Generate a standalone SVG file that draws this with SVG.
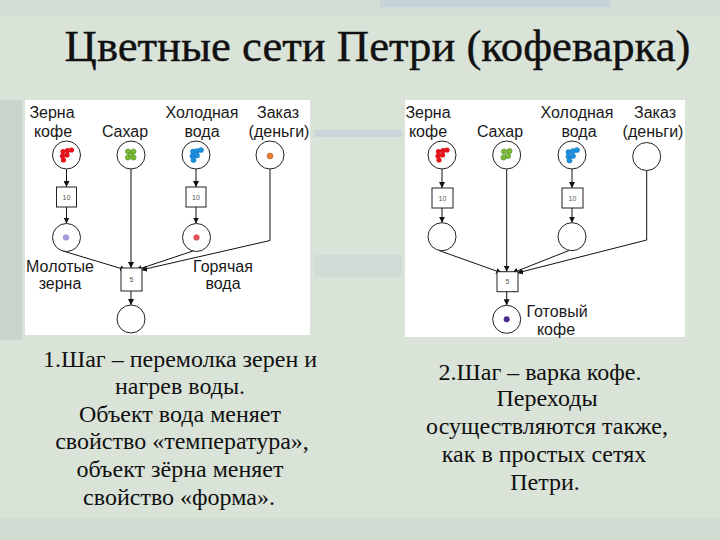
<svg xmlns="http://www.w3.org/2000/svg" width="720" height="540" viewBox="0 0 720 540">
<defs>
<marker id="arr" viewBox="0 0 10 10" refX="10" refY="5" markerWidth="6" markerHeight="6" orient="auto" markerUnits="userSpaceOnUse">
<path d="M0,0 L10,5 L0,10 z" fill="#111"/>
</marker>
<style>
.pl{fill:#fff;stroke:#222;stroke-width:1}
.tr{fill:#fff;stroke:#222;stroke-width:1}
.lb{font-family:"Liberation Sans",Arial,sans-serif;font-size:16px;fill:#1a1a1a;text-anchor:middle}
.tl{font-family:"Liberation Sans",Arial,sans-serif;font-size:7px;fill:#555;text-anchor:middle}
.cn{fill:none;stroke:#111;stroke-width:1;marker-end:url(#arr)}
.tx{font-family:"Liberation Serif","Times New Roman",serif;font-size:24px;fill:#111;text-anchor:middle}
.rd{fill:#e3141b}
.gr{fill:#7dbb3a;stroke:#4d8a1e;stroke-width:0.6}
.bl{fill:#1b90dd;stroke:#0d6bb0;stroke-width:0.4}
</style>
</defs>
<rect x="0" y="0" width="720" height="540" fill="#d9e3d8"/>
<rect x="0" y="0" width="720" height="16" fill="#d2ddd5"/>
<rect x="380" y="0" width="230" height="7" fill="#bccbdb" opacity="0.6"/>
<rect x="0" y="100" width="22" height="240" fill="#cad4cc"/>
<rect x="314" y="130" width="88" height="7" fill="#c3d0da" opacity="0.7"/>
<rect x="314" y="255" width="88" height="22" fill="#cbd7d6" opacity="0.6"/>
<rect x="0" y="518" width="720" height="22" fill="#d0dbd2"/>
<g id="title"><text class="tx" x="377.5" y="61" style="font-size:44.7px" stroke="#111" stroke-width="0.4">Цветные сети Петри (кофеварка)</text></g>
<rect x="25" y="100" width="285" height="235" fill="#fff"/>
<rect x="405" y="100" width="280" height="237" fill="#fff"/>
<g id="connectors">
<line class="cn" x1="66.5" y1="169" x2="66.5" y2="187"/>
<line class="cn" x1="66.5" y1="207" x2="66.5" y2="223.5"/>
<line class="cn" x1="196" y1="169" x2="196" y2="187"/>
<line class="cn" x1="196" y1="207" x2="196" y2="223.5"/>
<line class="cn" x1="131" y1="169" x2="131" y2="268"/>
<polyline class="cn" points="270,169 270,240.5 141,270"/>
<line class="cn" x1="63" y1="251" x2="126" y2="270"/>
<line class="cn" x1="193" y1="251" x2="136" y2="270"/>
<line class="cn" x1="131" y1="291" x2="131" y2="305"/>
<line class="cn" x1="442" y1="169" x2="442" y2="188"/>
<line class="cn" x1="442" y1="208" x2="442" y2="222.7"/>
<line class="cn" x1="572" y1="169" x2="572" y2="188"/>
<line class="cn" x1="572" y1="208" x2="572" y2="222.7"/>
<line class="cn" x1="506.7" y1="169" x2="506.7" y2="271.7"/>
<polyline class="cn" points="646.7,170.5 646.7,240 517,273"/>
<line class="cn" x1="439" y1="250.5" x2="502" y2="273"/>
<line class="cn" x1="569" y1="250.5" x2="512" y2="273"/>
<line class="cn" x1="506.7" y1="291.7" x2="506.7" y2="305.3"/>
</g>
<g id="L_beans">
<circle class="pl" cx="66.5" cy="155" r="14"/>
<circle class="rd" cx="63" cy="151.5" r="2.6"/><circle class="rd" cx="67.5" cy="150.5" r="2.6"/><circle class="rd" cx="71.5" cy="150" r="2.6"/>
<circle class="rd" cx="62.5" cy="156" r="2.6"/><circle class="rd" cx="67" cy="155" r="2.6"/><circle class="rd" cx="63.5" cy="160" r="2.6"/>
<text class="lb" x="52" y="118">Зерна</text><text class="lb" x="53" y="137">кофе</text>
</g>
<g id="L_sugar">
<circle class="pl" cx="131" cy="155" r="14"/>
<circle class="gr" cx="128" cy="151.5" r="2.6"/><circle class="gr" cx="133.5" cy="151.5" r="2.6"/>
<circle class="gr" cx="128" cy="157.5" r="2.6"/><circle class="gr" cx="133.5" cy="157.5" r="2.6"/><circle class="gr" cx="130.8" cy="154.5" r="2.6"/>
<text class="lb" x="125" y="137">Сахар</text>
</g>
<g id="L_cold">
<circle class="pl" cx="196" cy="155" r="14"/>
<circle class="bl" cx="193" cy="151.5" r="2.6"/><circle class="bl" cx="197" cy="151" r="2.6"/><circle class="bl" cx="201" cy="150" r="2.6"/>
<circle class="bl" cx="192.5" cy="156" r="2.6"/><circle class="bl" cx="197" cy="155.5" r="2.6"/><circle class="bl" cx="193.5" cy="160" r="2.6"/>
<text class="lb" x="202" y="118">Холодная</text><text class="lb" x="202" y="137">вода</text>
</g>
<g id="L_order">
<circle class="pl" cx="270" cy="155" r="14"/>
<circle cx="270" cy="156" r="3" fill="#e57a2e" stroke="#b55418" stroke-width="0.5"/>
<text class="lb" x="278" y="118">Заказ</text><text class="lb" x="279" y="137">(деньги)</text>
</g>
<g id="L_t1"><rect class="tr" x="56.5" y="187" width="20" height="20"/><text class="tl" x="66.5" y="199.5">10</text></g>
<g id="L_t2"><rect class="tr" x="186" y="187" width="20" height="20"/><text class="tl" x="196" y="199.5">10</text></g>
<g id="L_ground">
<circle class="pl" cx="66.5" cy="237.5" r="14"/>
<circle cx="66" cy="237.5" r="2.8" fill="#a39ddc" stroke="#7a72b8" stroke-width="0.5"/>
<text class="lb" x="60" y="272">Молотые</text><text class="lb" x="60" y="289">зерна</text>
</g>
<g id="L_hot">
<circle class="pl" cx="196.5" cy="237.5" r="14"/>
<circle cx="196.5" cy="237.5" r="2.8" fill="#e8545a" stroke="#b83035" stroke-width="0.5"/>
<text class="lb" x="223" y="272">Горячая</text><text class="lb" x="223" y="289">вода</text>
</g>
<g id="L_t3"><rect class="tr" x="121" y="268" width="21" height="23"/><text class="tl" x="131.5" y="282">5</text></g>
<g id="L_out"><circle class="pl" cx="131" cy="319" r="14"/></g>
<g id="R_beans">
<circle class="pl" cx="442" cy="155" r="14"/>
<circle class="rd" cx="438.5" cy="151.5" r="2.6"/><circle class="rd" cx="443" cy="150.5" r="2.6"/><circle class="rd" cx="447" cy="150" r="2.6"/>
<circle class="rd" cx="438" cy="156" r="2.6"/><circle class="rd" cx="442.5" cy="155" r="2.6"/><circle class="rd" cx="439" cy="160" r="2.6"/>
<text class="lb" x="428" y="118">Зерна</text><text class="lb" x="428" y="137">кофе</text>
</g>
<g id="R_sugar">
<circle class="pl" cx="506.7" cy="155" r="14"/>
<circle class="gr" cx="504" cy="151.5" r="2.6"/><circle class="gr" cx="509.5" cy="151" r="2.6"/>
<circle class="gr" cx="503.5" cy="157.5" r="2.6"/><circle class="gr" cx="508" cy="156" r="2.6"/>
<text class="lb" x="500" y="137">Сахар</text>
</g>
<g id="R_cold">
<circle class="pl" cx="572" cy="155" r="14"/>
<circle class="bl" cx="568.5" cy="152" r="2.6"/><circle class="bl" cx="573" cy="151" r="2.6"/><circle class="bl" cx="577" cy="150" r="2.6"/>
<circle class="bl" cx="568.5" cy="156.5" r="2.6"/><circle class="bl" cx="573" cy="156" r="2.6"/><circle class="bl" cx="569.5" cy="160.5" r="2.6"/>
<text class="lb" x="577" y="118">Холодная</text><text class="lb" x="579" y="137">вода</text>
</g>
<g id="R_order">
<circle class="pl" cx="646.7" cy="156.5" r="14"/>
<text class="lb" x="655" y="118">Заказ</text><text class="lb" x="653" y="137">(деньги)</text>
</g>
<g id="R_t1"><rect class="tr" x="432" y="188" width="21" height="20"/><text class="tl" x="442.5" y="200.5">10</text></g>
<g id="R_t2"><rect class="tr" x="562" y="188" width="21" height="20"/><text class="tl" x="572.5" y="200.5">10</text></g>
<g id="R_ground"><circle class="pl" cx="442" cy="236.7" r="14"/></g>
<g id="R_hot"><circle class="pl" cx="572" cy="236.7" r="14"/></g>
<g id="R_t3"><rect class="tr" x="497" y="271.7" width="21" height="20"/><text class="tl" x="507.5" y="284">5</text></g>
<g id="R_out">
<circle class="pl" cx="506.7" cy="319.3" r="14"/>
<circle cx="506.7" cy="319.3" r="3" fill="#4b2a92"/>
<text class="lb" x="557" y="317">Готовый</text><text class="lb" x="556" y="335">кофе</text>
</g>
<g id="text_left">
<text class="tx" x="180" y="367">1.Шаг – перемолка зерен и</text>
<text class="tx" x="180" y="394">нагрев воды.</text>
<text class="tx" x="180" y="422">Объект вода меняет</text>
<text class="tx" x="182" y="449">свойство «температура»,</text>
<text class="tx" x="180" y="477">объект зёрна меняет</text>
<text class="tx" x="179" y="505">свойство «форма».</text>
</g>
<g id="text_right">
<text class="tx" x="540" y="380">2.Шаг – варка кофе.</text>
<text class="tx" x="547" y="406">Переходы</text>
<text class="tx" x="547" y="434">осуществляются также,</text>
<text class="tx" x="544" y="462">как в простых сетях</text>
<text class="tx" x="545" y="490">Петри.</text>
</g>
</svg>
